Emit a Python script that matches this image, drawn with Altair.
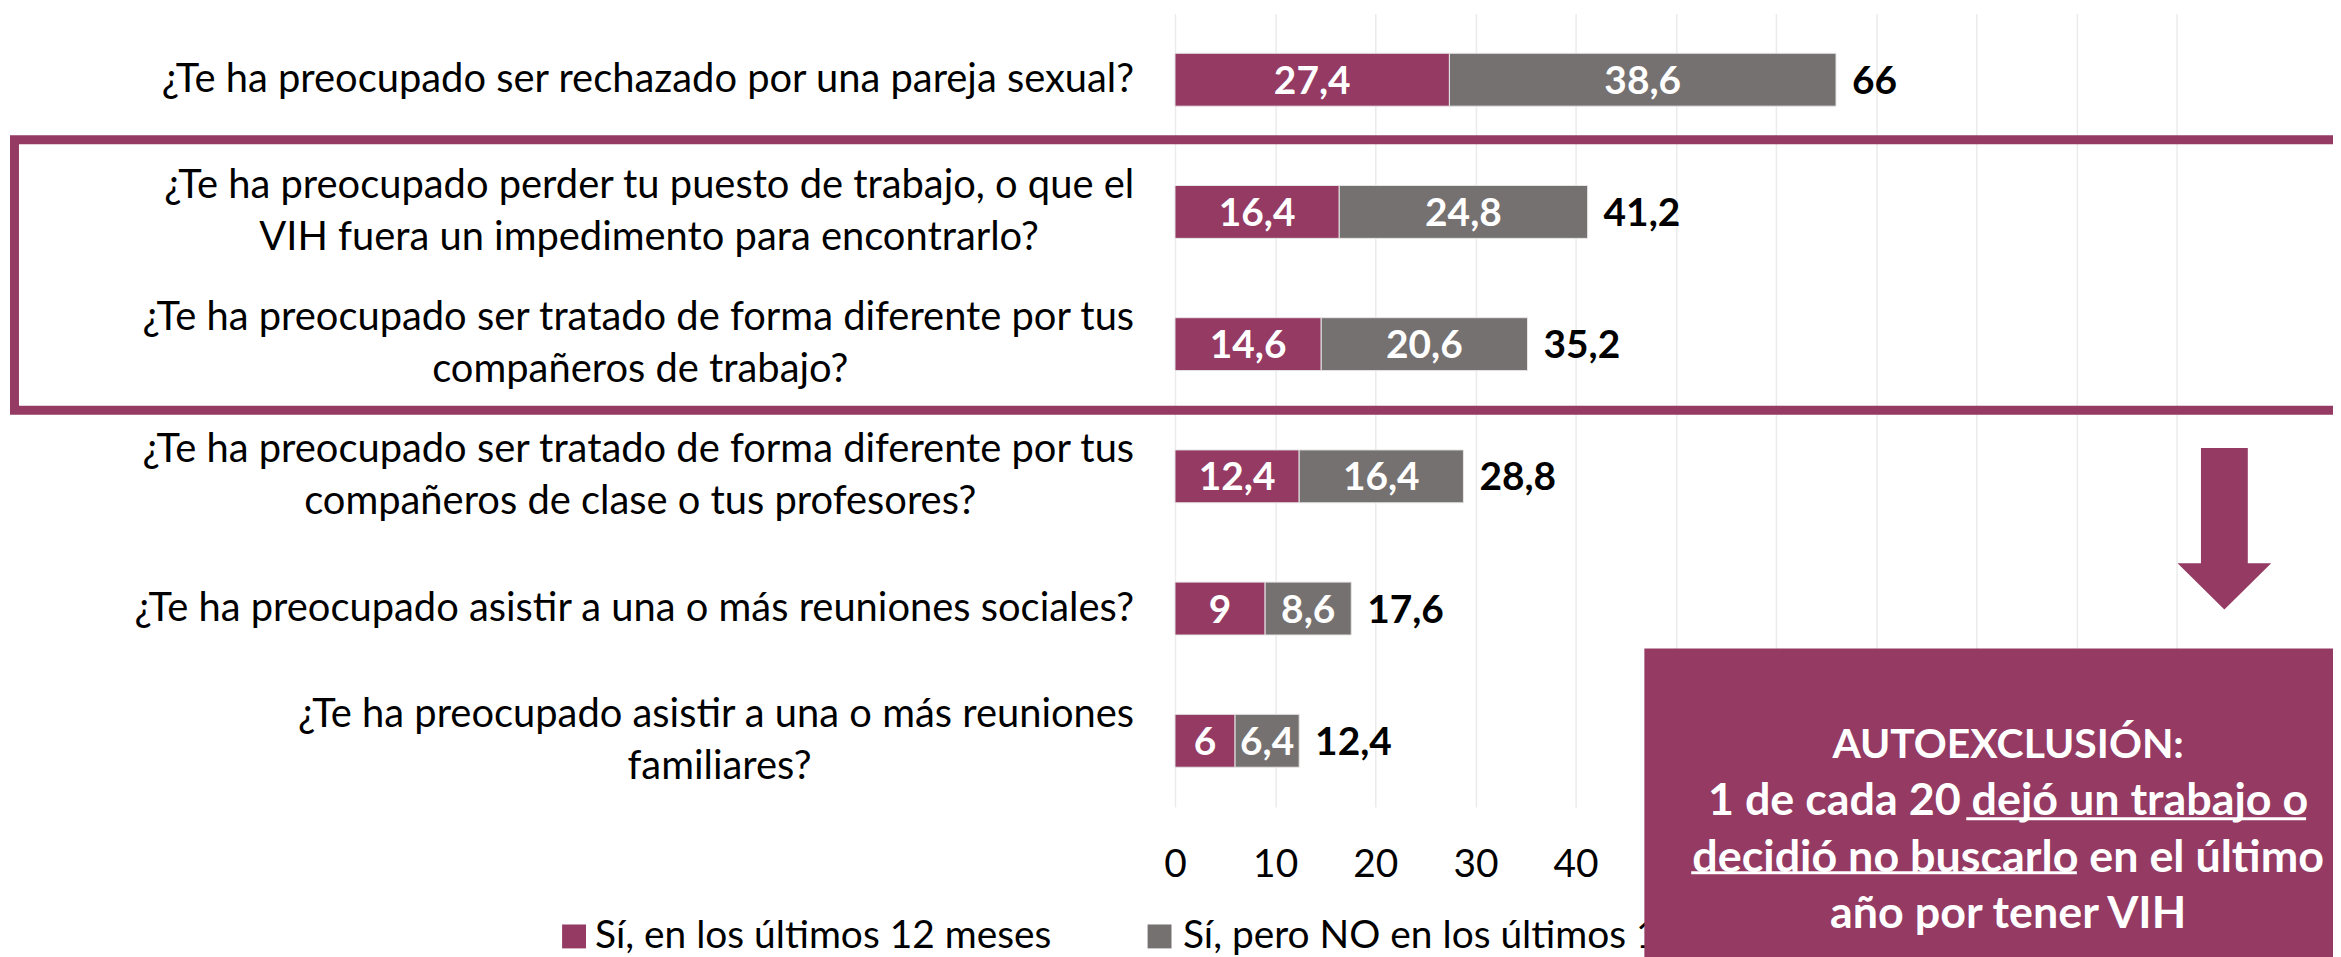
import altair as alt
import pandas as pd

PURPLE = "#943A63"
GRAY = "#767171"
FONT = "Lato"

# ---------------- data ----------------
line1 = [
    "¿Te ha preocupado ser rechazado por una pareja sexual?",
    "¿Te ha preocupado perder tu puesto de trabajo, o que el",
    "¿Te ha preocupado ser tratado de forma diferente por tus",
    "¿Te ha preocupado ser tratado de forma diferente por tus",
    "¿Te ha preocupado asistir a una o más reuniones sociales?",
    "¿Te ha preocupado asistir a una o más reuniones",
]
line2 = [
    "",
    "VIH fuera un impedimento para encontrarlo?",
    "compañeros de trabajo?",
    "compañeros de clase o tus profesores?",
    "",
    "familiares?",
]
series = ["Sí, en los últimos 12 meses", "Sí, pero NO en los últimos 12 meses"]
last12 = [27.4, 16.4, 14.6, 12.4, 9, 6]
before12 = [38.6, 24.8, 20.6, 16.4, 8.6, 6.4]
x_ticks = [0, 10, 20, 30, 40, 50, 60, 70, 80, 90, 100]
callout_title = "AUTOEXCLUSIÓN:"
callout_lines = [
    "1 de cada 20 dejó un trabajo o",
    "decidió no buscarlo en el último",
    "año por tener VIH",
]

questions = [(a + " " + b).strip() for a, b in zip(line1, line2)]

rows = []
for q, a, b in zip(questions, last12, before12):
    rows.append({"q": q, "series": series[0], "ord": 0, "value": a})
    rows.append({"q": q, "series": series[1], "ord": 1, "value": b})
bars_df = pd.DataFrame(rows)
labels_df = pd.DataFrame({"q": questions, "line1": line1, "line2": line2})
legend_df = pd.DataFrame({"series": series})
one = pd.DataFrame({"k": [0]})

# ---------------- encodings ----------------
PLOT_W = 1005
PLOT_H = 796
XMAX = 100

yenc = alt.Y(
    "q:N",
    sort=questions,
    scale=alt.Scale(domain=questions, paddingInner=0.6, paddingOuter=0.3),
    axis=None,
)
xscale = alt.Scale(domain=[0, XMAX], nice=False, zero=True)
color_scale = alt.Scale(domain=series, range=[PURPLE, GRAY])

stacked = alt.Chart(bars_df).transform_stack(
    stack="value", groupby=["q"], as_=["x0", "x1"],
    sort=[alt.SortField("ord", order="ascending")],
)

bars = stacked.mark_bar(stroke="#E6E6E6", strokeWidth=1).encode(
    x=alt.X(
        "x0:Q",
        scale=xscale,
        axis=alt.Axis(
            values=x_ticks, grid=True, ticks=False, tickSize=0, domain=False,
            title=None, labelFont=FONT, labelFontSize=39, labelColor="#000000",
            labelPadding=39, labelFlush=False, labelOverlap=False,
            labelExpr="datum.value <= 40 ? datum.label : ''",
            gridColor="#EBEBEB", gridWidth=1.5,
        ),
    ),
    x2="x1:Q",
    y=yenc,
    color=alt.Color("series:N", scale=color_scale, legend=None),
)

seg_labels = stacked.transform_calculate(
    mid="(datum.x0 + datum.x1) / 2",
    lbl="replace(format(datum.value, '.1~f'), '.', ',')",
).mark_text(
    font=FONT, fontSize=39, fontWeight="bold", color="white",
    align="center", baseline="middle", dy=2,
).encode(x=alt.X("mid:Q", scale=xscale), y=yenc, text="lbl:N")

totals = alt.Chart(bars_df).transform_aggregate(
    total="sum(value)", groupby=["q"]
).transform_calculate(
    lbl="replace(format(datum.total, '.1~f'), '.', ',')"
).mark_text(
    font=FONT, fontSize=39, fontWeight="bold", color="black",
    align="left", baseline="middle", dx=16, dy=2,
).encode(x=alt.X("total:Q", scale=xscale), y=yenc, text="lbl:N")

# question labels (block right-aligned, lines centred on each other)
LABEL_GAP = 41
LABEL_FS = 40
CHAR_W = 17.7
lab_base = alt.Chart(labels_df)
lab_single = lab_base.transform_filter("datum.line2 == ''").mark_text(
    font=FONT, fontSize=LABEL_FS, color="black", align="right", baseline="middle", dy=0,
).encode(x=alt.value(-LABEL_GAP), y=yenc, text="line1:N")
lab_first = lab_base.transform_filter("datum.line2 != ''").mark_text(
    font=FONT, fontSize=LABEL_FS, color="black", align="right", baseline="middle", dy=-26,
).encode(x=alt.value(-LABEL_GAP), y=yenc, text="line1:N")
lab_second = lab_base.transform_filter("datum.line2 != ''").transform_calculate(
    cx=f"(-{LABEL_GAP} - length(datum.line1) * {CHAR_W} / 2) * {XMAX} / {PLOT_W}"
).mark_text(
    font=FONT, fontSize=LABEL_FS, color="black", align="center", baseline="middle", dy=26,
).encode(x=alt.X("cx:Q", scale=xscale), y=yenc, text="line2:N")

# highlight frame around the two work-related questions
frame = alt.Chart(one).mark_rect(
    fillOpacity=0, stroke=PURPLE, strokeWidth=9
).encode(
    x=alt.value(-1164.5), x2=alt.value(1300),
    y=alt.value(126.5), y2=alt.value(398),
)

# manual legend (drawn below the callout box)
LEG_FS = 39
leg_sq1 = alt.Chart(legend_df).transform_filter(
    alt.datum.series == series[0]
).mark_square(size=576, opacity=1).encode(
    x=alt.value(-603), y=alt.value(926),
    color=alt.Color("series:N", scale=color_scale, legend=None),
)
leg_tx1 = alt.Chart(legend_df).transform_filter(
    alt.datum.series == series[0]
).mark_text(
    font=FONT, fontSize=LEG_FS, color="black", align="left", baseline="middle",
).encode(x=alt.value(-582), y=alt.value(926), text="series:N")
leg_sq2 = alt.Chart(legend_df).transform_filter(
    alt.datum.series == series[1]
).mark_square(size=576, opacity=1).encode(
    x=alt.value(-15.5), y=alt.value(926),
    color=alt.Color("series:N", scale=color_scale, legend=None),
)
leg_tx2 = alt.Chart(legend_df).transform_filter(
    alt.datum.series == series[1]
).mark_text(
    font=FONT, fontSize=LEG_FS, color="black", align="left", baseline="middle",
).encode(x=alt.value(8), y=alt.value(926), text="series:N")

# arrow
ARROW = "M-0.29,-1 L0.29,-1 L0.29,0.427 L0.58,0.427 L0,1 L-0.58,0.427 L-0.29,0.427 Z"
arrow = alt.Chart(one).mark_point(
    shape=ARROW, size=26244, filled=True, color=PURPLE, opacity=1, strokeWidth=0,
).encode(x=alt.value(1053), y=alt.value(517))

# callout box
box = alt.Chart(one).mark_rect(color=PURPLE, opacity=1).encode(
    x=alt.value(471), x2=alt.value(1300), y=alt.value(637), y2=alt.value(1000),
)
box_title = alt.Chart(one).mark_text(
    text=callout_title, font=FONT, fontSize=41, fontWeight="bold", color="white",
    align="center", baseline="alphabetic",
).encode(x=alt.value(836), y=alt.value(747))
box_text = alt.Chart(one).mark_text(
    text=callout_lines, font=FONT, fontSize=45, fontWeight="bold", color="white",
    align="center", baseline="alphabetic", lineHeight=57,
).encode(x=alt.value(836), y=alt.value(804))
ul1 = alt.Chart(one).mark_rule(color="white", strokeWidth=3).encode(
    x=alt.value(794), x2=alt.value(1135), y=alt.value(808),
)
ul2 = alt.Chart(one).mark_rule(color="white", strokeWidth=3).encode(
    x=alt.value(518), x2=alt.value(905), y=alt.value(862),
)

chart = alt.layer(
    frame, bars, seg_labels, totals, lab_single, lab_first, lab_second,
    leg_sq1, leg_tx1, leg_sq2, leg_tx2, arrow, box, box_title, box_text, ul1, ul2,
).properties(
    width=PLOT_W,
    height=PLOT_H,
    padding={"left": 1171, "top": 4, "right": 157, "bottom": 149},
    autosize=alt.AutoSizeParams(type="none"),
    background="white",
).configure_view(stroke=None)

chart.save("out.html", embed_options={"renderer": "svg", "actions": False})
